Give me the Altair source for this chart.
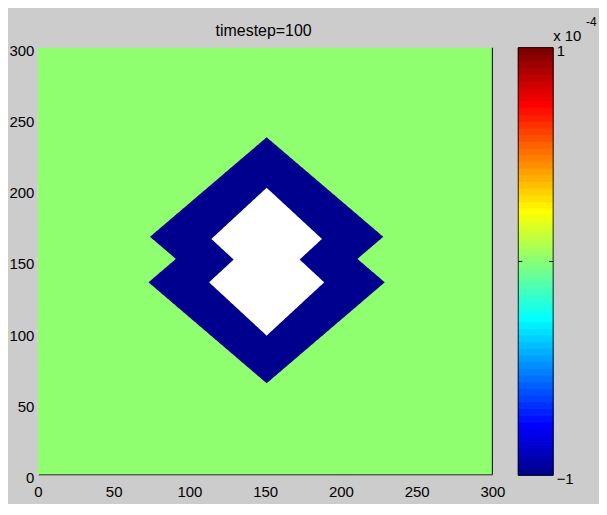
import altair as alt
import numpy as np
import pandas as pd

# ---------------- data ----------------
title_text = "timestep=100"
axis_ticks = [0, 50, 100, 150, 200, 250, 300]
cbar_ticks = [-1, 0, 1]
cbar_base = "x 10"
cbar_exp = "-4"

# field values (units of 1e-4)
bg_value = 0.0        # background field (light green)
ring_value = -1.0     # dark blue ring
# hole = NaN (white)

# outer boundary: union of two diamonds (centre x, centre y, half-width, half-height)
outer_cx = [151.0, 151.0]
outer_cy = [167.0, 135.0]
outer_rx = [77.0, 78.0]
outer_ry = [70.0, 71.0]
# inner (NaN) hole: union of two diamonds
inner_cx = [151.0, 151.0]
inner_cy = [165.5, 135.0]
inner_rx = [36.5, 38.0]
inner_ry = [36.0, 37.5]


def jet(m=64):
    n = int(np.ceil(m / 4))
    u = np.concatenate([np.arange(1, n + 1) / n, np.ones(n - 1), np.arange(n, 0, -1) / n])
    g = int(np.ceil(n / 2)) - (1 if m % 4 == 1 else 0) + np.arange(1, len(u) + 1)
    r = g + n
    b = g - n
    J = np.zeros((m, 3))
    for idx, col in ((r, 0), (g, 1), (b, 2)):
        mask = (idx >= 1) & (idx <= m)
        J[idx[mask] - 1, col] = u[mask]
    return ["#%02x%02x%02x" % tuple(int(round(c * 255)) for c in row) for row in J]


jet64 = jet(64)


def span(y, cxs, cys, rxs, rys):
    lo = hi = None
    for cx, cy, rx, ry in zip(cxs, cys, rxs, rys):
        t = 1 - abs(y - cy) / ry
        if t >= -1e-9:
            t = max(t, 0.0)
            a, b = cx - rx * t, cx + rx * t
            lo = a if lo is None else min(lo, a)
            hi = b if hi is None else max(hi, b)
    return lo, hi


def outline(cxs, cys, rxs, rys, value):
    ymin = min(c - r for c, r in zip(cys, rys))
    ymax = max(c + r for c, r in zip(cys, rys))
    ys_ = np.unique(np.concatenate([np.arange(ymin, ymax, 0.5), [ymin, ymax], cys]))
    rows = []
    for y in ys_:
        a, b = span(y, cxs, cys, rxs, rys)
        if a is not None:
            rows.append(dict(y=y, xa=a, xb=b, v=value))
    return pd.DataFrame(rows)


ring_df = outline(outer_cx, outer_cy, outer_rx, outer_ry, ring_value)
hole_df = outline(inner_cx, inner_cy, inner_rx, inner_ry, np.nan)
bg_df = pd.DataFrame(dict(x=[0], x2=[300], y=[0], y2=[300], v=[bg_value]))
title_df = pd.DataFrame(dict(label=[title_text]))

FONT = "Liberation Sans"
color_scale = alt.Scale(type="quantize", domain=[-1, 1], range=jet64)

xs = alt.Scale(domain=[0, 300], nice=False, zero=False)
ys = alt.Scale(domain=[0, 300], nice=False, zero=False)
xaxis = alt.Axis(values=axis_ticks, title=None, grid=False, ticks=False, tickSize=0,
                 labelPadding=10, domainColor="black", labelFontSize=15, labelFont=FONT,
                 labelColor="black", labelFlush=False)
yaxis = alt.Axis(values=axis_ticks, title=None, grid=False, ticks=False, tickSize=0,
                 labelPadding=4, domainColor="white", labelFontSize=15, labelFont=FONT,
                 labelColor="black", labelFlush=False, labelOffset=3)

bg = alt.Chart(bg_df).mark_rect().encode(
    x=alt.X("x:Q", scale=xs, axis=xaxis), x2="x2", y=alt.Y("y:Q", scale=ys, axis=yaxis), y2="y2",
    color=alt.Color("v:Q", scale=color_scale, legend=None))
ring = alt.Chart(ring_df).mark_area(orient="horizontal", interpolate="linear").encode(
    y=alt.Y("y:Q", sort=None), x="xa:Q", x2="xb", color=alt.Color("v:Q", scale=color_scale, legend=None))
hole = alt.Chart(hole_df).mark_area(orient="horizontal", interpolate="linear", color="white").encode(
    y=alt.Y("y:Q", sort=None), x="xa:Q", x2="xb")
right_edge = alt.Chart(bg_df).mark_rule(color="black", strokeWidth=1).encode(
    x="x2:Q", y="y:Q", y2="y2")
title = alt.Chart(title_df).mark_text(align="center", baseline="alphabetic", fontSize=16, font=FONT,
                                      color="black").encode(
    text="label:N", x=alt.value(226.5), y=alt.value(-12))

main = alt.layer(bg, ring, hole, right_edge, title).properties(
    width=456, height=428, view=alt.ViewBackground(stroke=None))

# ---------------- colorbar ----------------
nb = len(jet64)
edges = np.linspace(-1, 1, nb + 1)
cb_df = pd.DataFrame(dict(lo=edges[:-1], hi=edges[1:], v=(edges[:-1] + edges[1:]) / 2))
cys = alt.Scale(domain=[-1, 1], nice=False, zero=False)
cb_rect = alt.Chart(cb_df).mark_rect(strokeWidth=1).encode(
    y=alt.Y("lo:Q", scale=cys, axis=alt.Axis(values=cbar_ticks, orient="right", title=None,
                                              grid=False, ticks=False, tickSize=0, domain=False,
                                              labelPadding=3, labelFontSize=15, labelFont=FONT,
                                              labelColor="black", labelFlush=False, format="d",
                                              labelOffset=3)),
    y2="hi", x=alt.value(0), x2=alt.value(35),
    color=alt.Color("v:Q", scale=color_scale, legend=None),
    stroke=alt.Stroke("v:Q", scale=color_scale, legend=None))
box_df = pd.DataFrame(dict(lo=[-1], hi=[1]))
cb_box = alt.Chart(box_df).mark_rect(filled=False, stroke="black", strokeWidth=1, opacity=0.85).encode(
    y="lo:Q", y2="hi", x=alt.value(0), x2=alt.value(35))
tick_df = pd.DataFrame(dict(t=[0]))
tick_l = alt.Chart(tick_df).mark_rule(color="black").encode(y="t:Q", x=alt.value(0), x2=alt.value(4))
tick_r = alt.Chart(tick_df).mark_rule(color="black").encode(y="t:Q", x=alt.value(31), x2=alt.value(35))
txt_df = pd.DataFrame(dict(label=[cbar_base, cbar_exp], px=[35, 68], py=[-7, -22], fs=[15, 12]))
base_txt = alt.Chart(txt_df).transform_filter(alt.datum.label == cbar_base).mark_text(
    align="left", baseline="alphabetic", fontSize=15, font=FONT, color="black").encode(
    text="label:N", x=alt.value(35), y=alt.value(-7))
exp_txt = alt.Chart(txt_df).transform_filter(alt.datum.label == cbar_exp).mark_text(
    align="left", baseline="alphabetic", fontSize=12, font=FONT, color="black", dx=33).encode(
    text="label:N", x=alt.value(35), y=alt.value(-22))
cbar = alt.layer(cb_rect, cb_box, tick_l, tick_r, base_txt, exp_txt).properties(
    width=35, height=429, view=alt.ViewBackground(stroke=None))

chart = alt.hconcat(main, cbar, spacing=26, bounds="flush").properties(
    padding={"left": 0, "top": 7, "right": 2, "bottom": 4},
    background="#cccccc",
).configure_view(stroke=None).configure_axis(domainWidth=1)

chart.save("out.html", embed_options={"renderer": "svg", "actions": False})
